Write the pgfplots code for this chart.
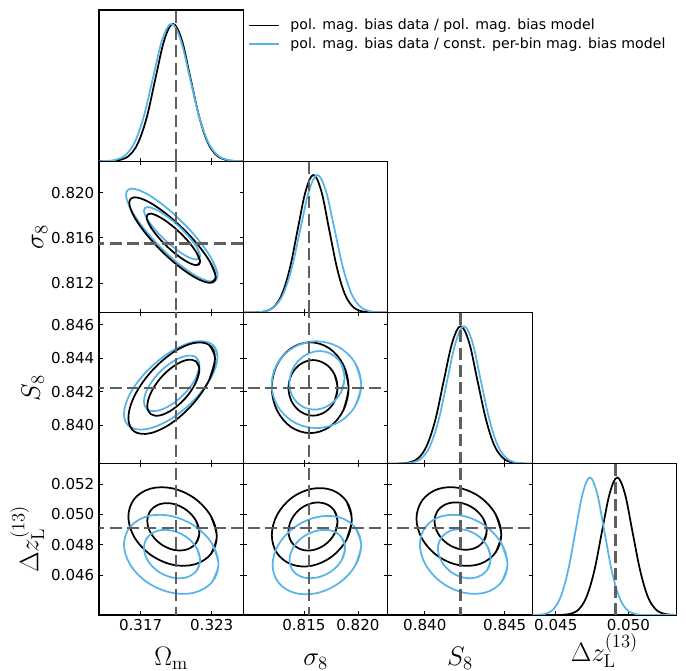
\RequirePackage{fix-cm}
\documentclass[border=0pt]{standalone}
\usepackage[no-math]{fontspec}
\setmainfont{DejaVu Sans}
\usepackage{pgfplots}
\pgfplotsset{compat=1.18}
\definecolor{cblue}{RGB}{86,180,233}
\definecolor{cgray}{RGB}{95,95,95}
\pgfplotsset{
  panel/.style={scale only axis, width=108.32pt, height=113.44pt, anchor=south west,
    tick align=inside, major tick length=2.8pt, scaled ticks=false,
    every tick/.style={black, line width=0.6pt},
    axis line style={line width=0.8pt},
    tick label style={font=\fontsize{11.3}{13}\selectfont},
    label style={font=\fontsize{20}{24}\selectfont},
    xticklabels={}, yticklabels={},
    xlabel style={at={(axis description cs:0.5,-0.331)}, anchor=base},
  },
  blk/.style={black, line width=1.3pt, smooth, tension=0.6},
  blu/.style={cblue, line width=1.3pt, smooth, tension=0.6},
  truth/.style={cgray, line width=1.9pt, dash pattern=on 9pt off 4pt, forget plot},
}
\begin{document}
\begin{tikzpicture}
\path[use as bounding box] (0,0) rectangle (514.5pt,503.25pt);

% ---------- (1,1) Omega_m 1D
\begin{axis}[panel, at={(74.25pt,382.31pt)},
  xmin=0.31348, xmax=0.32568, ymin=0, ymax=1.1,
  xtick={0.317,0.323}, ytick=\empty, xtick pos=left,
  legend style={at={(1.03,0.95)}, anchor=north west, draw=none, fill=none,
    font=\fontsize{10.6}{13}\selectfont, row sep=2.2pt, inner sep=0pt, nodes={inner sep=1pt},
    /tikz/every odd column/.append style={column sep=7pt}},
  legend cell align=left,
  legend image code/.code={\draw[#1] (0pt,0pt) -- (22.5pt,0pt);}]
\addplot[blk] coordinates {(0.3130,0) (0.31385,0.0003) (0.31459,0.0022) (0.31532,0.0111) (0.31606,0.0439) (0.31679,0.1353) (0.31753,0.3247) (0.31826,0.6065) (0.31900,0.8825) (0.31973,1) (0.32047,0.8825) (0.32120,0.6065) (0.32194,0.3247) (0.32267,0.1353) (0.32341,0.0439) (0.32414,0.0111) (0.32488,0.0022) (0.32561,0.0003) (0.3262,0)};
\addlegendentry{pol. mag. bias data / pol. mag. bias model}
\addplot[blu] coordinates {(0.3130,0) (0.31336,0.0003) (0.31414,0.0022) (0.31492,0.0111) (0.31570,0.0439) (0.31648,0.1353) (0.31726,0.3247) (0.31804,0.6065) (0.31882,0.8825) (0.31960,1) (0.32038,0.8825) (0.32116,0.6065) (0.32194,0.3247) (0.32272,0.1353) (0.32350,0.0439) (0.32428,0.0111) (0.32506,0.0022) (0.32584,0.0003) (0.3262,0)};
\addlegendentry{pol. mag. bias data / const. per-bin mag. bias model}
\addplot[truth] coordinates {(0.32,0) (0.32,1.1)};
\end{axis}

% ---------- (2,1) Omega_m vs sigma_8
\begin{axis}[panel, at={(74.25pt,268.88pt)},
  xmin=0.31348, xmax=0.32568, ymin=0.8094, ymax=0.82277,
  xtick={0.317,0.323}, ytick={0.812,0.816,0.820}, yticklabels={0.812,0.816,0.820},
  ylabel={$\sigma_8$}, ylabel style={at={(axis description cs:-0.385,0.5)}, anchor=base}]
\addplot[blu] coordinates {(0.32298,0.81213) (0.32350,0.81267) (0.32298,0.81416) (0.32157,0.81621) (0.31963,0.81826) (0.31770,0.81978) (0.31628,0.82035) (0.31576,0.81981) (0.31628,0.81832) (0.31770,0.81627) (0.31963,0.81422) (0.32157,0.81270) (0.32298,0.81213) (0.32350,0.81267) (0.32298,0.81416)};
\addplot[blk] coordinates {(0.32285,0.81202) (0.32334,0.81251) (0.32285,0.81388) (0.32152,0.81577) (0.31969,0.81766) (0.31787,0.81906) (0.31653,0.81958) (0.31604,0.81909) (0.31653,0.81772) (0.31787,0.81583) (0.31969,0.81394) (0.32152,0.81254) (0.32285,0.81202) (0.32334,0.81251) (0.32285,0.81388)};
\addplot[blu] coordinates {(0.32170,0.81408) (0.32202,0.81438) (0.32170,0.81522) (0.32083,0.81638) (0.31965,0.81755) (0.31847,0.81840) (0.31760,0.81872) (0.31728,0.81842) (0.31760,0.81758) (0.31847,0.81642) (0.31965,0.81526) (0.32083,0.81440) (0.32170,0.81408) (0.32202,0.81438) (0.32170,0.81522)};
\addplot[blk] coordinates {(0.32171,0.81358) (0.32202,0.81388) (0.32171,0.81471) (0.32089,0.81584) (0.31976,0.81698) (0.31863,0.81782) (0.31781,0.81814) (0.31750,0.81784) (0.31781,0.81702) (0.31863,0.81588) (0.31976,0.81474) (0.32089,0.81390) (0.32171,0.81358) (0.32202,0.81388) (0.32171,0.81471)};
\addplot[truth] coordinates {(0.32,0.805) (0.32,0.826)};
\addplot[truth] coordinates {(0.310,0.81548) (0.330,0.81548)};
\end{axis}

% ---------- (3,1) Omega_m vs S_8
\begin{axis}[panel, at={(74.25pt,155.44pt)},
  xmin=0.31348, xmax=0.32568, ymin=0.83769, ymax=0.84672,
  xtick={0.317,0.323}, ytick={0.840,0.842,0.844,0.846}, yticklabels={0.840,0.842,0.844,0.846},
  ylabel={$S_8$}, ylabel style={at={(axis description cs:-0.41,0.5)}, anchor=base}]
\addplot[blu] coordinates {(0.32296,0.84285) (0.32349,0.84409) (0.32296,0.84486) (0.32151,0.84497) (0.31954,0.84438) (0.31757,0.84325) (0.31612,0.84189) (0.31559,0.84065) (0.31612,0.83988) (0.31757,0.83977) (0.31954,0.84036) (0.32151,0.84149) (0.32296,0.84285) (0.32349,0.84409) (0.32296,0.84486)};
\addplot[blk] coordinates {(0.32279,0.84270) (0.32328,0.84398) (0.32279,0.84478) (0.32145,0.84489) (0.31962,0.84428) (0.31779,0.84311) (0.31645,0.84170) (0.31596,0.84042) (0.31645,0.83962) (0.31779,0.83951) (0.31962,0.84012) (0.32145,0.84129) (0.32279,0.84270) (0.32328,0.84398) (0.32279,0.84478)};
\addplot[blu] coordinates {(0.32165,0.84279) (0.32196,0.84357) (0.32165,0.84406) (0.32079,0.84412) (0.31962,0.84375) (0.31845,0.84304) (0.31759,0.84219) (0.31728,0.84141) (0.31759,0.84092) (0.31845,0.84086) (0.31962,0.84123) (0.32079,0.84194) (0.32165,0.84279) (0.32196,0.84357) (0.32165,0.84406)};
\addplot[blk] coordinates {(0.32166,0.84254) (0.32196,0.84332) (0.32166,0.84381) (0.32086,0.84388) (0.31976,0.84350) (0.31866,0.84279) (0.31786,0.84192) (0.31756,0.84114) (0.31786,0.84065) (0.31866,0.84058) (0.31976,0.84096) (0.32086,0.84167) (0.32166,0.84254) (0.32196,0.84332) (0.32166,0.84381)};
\addplot[truth] coordinates {(0.32,0.835) (0.32,0.849)};
\addplot[truth] coordinates {(0.310,0.84222) (0.330,0.84222)};
\end{axis}

% ---------- (4,1) Omega_m vs Delta z
\begin{axis}[panel, at={(74.25pt,42pt)},
  xmin=0.31348, xmax=0.32568, ymin=0.04338, ymax=0.05333,
  xtick={0.317,0.323}, xticklabels={0.317,0.323},
  ytick={0.046,0.048,0.050,0.052}, yticklabels={0.046,0.048,0.050,0.052},
  xlabel={$\Omega_{\mathrm{m}}$},
  ylabel={$\Delta z_{\mathrm{L}}^{(13)}$}, ylabel style={at={(axis description cs:-0.42,0.5)}, anchor=base}]
\addplot[blk] coordinates {(0.32293,0.04739) (0.32343,0.04855) (0.32293,0.04989) (0.32156,0.05105) (0.31969,0.05171) (0.31782,0.05169) (0.31646,0.05101) (0.31596,0.04985) (0.31646,0.04851) (0.31782,0.04735) (0.31969,0.04669) (0.32156,0.04671) (0.32293,0.04739) (0.32343,0.04855) (0.32293,0.04989)};
\addplot[blk] coordinates {(0.32166,0.04809) (0.32196,0.04879) (0.32166,0.04960) (0.32086,0.05029) (0.31976,0.05069) (0.31866,0.05068) (0.31786,0.05027) (0.31756,0.04957) (0.31786,0.04876) (0.31866,0.04807) (0.31976,0.04767) (0.32086,0.04768) (0.32166,0.04809) (0.32196,0.04879) (0.32166,0.04960)};
\addplot[blu] coordinates {(0.32303,0.04555) (0.32357,0.04672) (0.32303,0.04807) (0.32157,0.04923) (0.31958,0.04989) (0.31759,0.04988) (0.31613,0.04919) (0.31559,0.04802) (0.31613,0.04667) (0.31759,0.04551) (0.31958,0.04485) (0.32157,0.04486) (0.32303,0.04555) (0.32357,0.04672) (0.32303,0.04807)};
\addplot[blu] coordinates {(0.32170,0.04627) (0.32202,0.04699) (0.32170,0.04782) (0.32083,0.04853) (0.31965,0.04893) (0.31847,0.04893) (0.31760,0.04851) (0.31728,0.04779) (0.31760,0.04696) (0.31847,0.04625) (0.31965,0.04585) (0.32083,0.04585) (0.32170,0.04627) (0.32202,0.04699) (0.32170,0.04782)};
\addplot[truth] coordinates {(0.32,0.042) (0.32,0.055)};
\addplot[truth] coordinates {(0.310,0.0491) (0.330,0.0491)};
\end{axis}

% ---------- (2,2) sigma_8 1D
\begin{axis}[panel, at={(182.57pt,268.88pt)},
  xmin=0.8094, xmax=0.82277, ymin=0, ymax=1.1,
  xtick={0.815,0.820}, ytick=\empty, xtick pos=left]
\addplot[blk] coordinates {(0.8090,0) (0.81008,0.0003) (0.81081,0.0022) (0.81153,0.0111) (0.81226,0.0439) (0.81298,0.1353) (0.81371,0.3247) (0.81443,0.6065) (0.81516,0.8825) (0.81588,1) (0.81661,0.8825) (0.81733,0.6065) (0.81806,0.3247) (0.81878,0.1353) (0.81951,0.0439) (0.82023,0.0111) (0.82096,0.0022) (0.82168,0.0003) (0.8232,0)};
\addplot[blu] coordinates {(0.8090,0) (0.80993,0.0003) (0.81072,0.0022) (0.81151,0.0111) (0.81230,0.0439) (0.81309,0.1353) (0.81388,0.3247) (0.81467,0.6065) (0.81546,0.8825) (0.81625,1) (0.81704,0.8825) (0.81783,0.6065) (0.81862,0.3247) (0.81941,0.1353) (0.82020,0.0439) (0.82099,0.0111) (0.82178,0.0022) (0.82257,0.0003) (0.8232,0)};
\addplot[truth] coordinates {(0.81548,0) (0.81548,1.1)};
\end{axis}

% ---------- (3,2) sigma_8 vs S_8
\begin{axis}[panel, at={(182.57pt,155.44pt)},
  xmin=0.8094, xmax=0.82277, ymin=0.83769, ymax=0.84672,
  xtick={0.815,0.820}, ytick={0.840,0.842,0.844,0.846}]
\addplot[blk] coordinates {(0.81865,0.84088) (0.81913,0.84223) (0.81865,0.84359) (0.81735,0.84458) (0.81558,0.84494) (0.81381,0.84458) (0.81251,0.84359) (0.81203,0.84223) (0.81251,0.84088) (0.81381,0.83988) (0.81558,0.83952) (0.81735,0.83988) (0.81865,0.84088) (0.81913,0.84223) (0.81865,0.84359)};
\addplot[blu] coordinates {(0.81974,0.84112) (0.82030,0.84241) (0.81974,0.84371) (0.81823,0.84465) (0.81616,0.84500) (0.81409,0.84465) (0.81258,0.84371) (0.81202,0.84241) (0.81258,0.84112) (0.81409,0.84017) (0.81616,0.83982) (0.81823,0.84017) (0.81974,0.84112) (0.82030,0.84241) (0.81974,0.84371)};
\addplot[blk] coordinates {(0.81781,0.84139) (0.81811,0.84222) (0.81781,0.84305) (0.81698,0.84365) (0.81584,0.84388) (0.81471,0.84365) (0.81388,0.84305) (0.81357,0.84222) (0.81388,0.84139) (0.81471,0.84079) (0.81584,0.84056) (0.81698,0.84079) (0.81781,0.84139) (0.81811,0.84222) (0.81781,0.84305)};
\addplot[blu] coordinates {(0.81842,0.84195) (0.81876,0.84285) (0.81842,0.84369) (0.81748,0.84426) (0.81621,0.84441) (0.81494,0.84409) (0.81400,0.84339) (0.81366,0.84250) (0.81400,0.84165) (0.81494,0.84108) (0.81621,0.84093) (0.81748,0.84125) (0.81842,0.84195) (0.81876,0.84285) (0.81842,0.84369)};
\addplot[truth] coordinates {(0.81548,0.835) (0.81548,0.849)};
\addplot[truth] coordinates {(0.805,0.84222) (0.826,0.84222)};
\end{axis}

% ---------- (4,2) sigma_8 vs Delta z
\begin{axis}[panel, at={(182.57pt,42pt)},
  xmin=0.8094, xmax=0.82277, ymin=0.04338, ymax=0.05333,
  xtick={0.815,0.820}, xticklabels={0.815,0.820}, ytick={0.046,0.048,0.050,0.052},
  xlabel={$\sigma_8$}]
\addplot[blk] coordinates {(0.81894,0.04833) (0.81943,0.04967) (0.81894,0.05086) (0.81758,0.05160) (0.81573,0.05168) (0.81388,0.05109) (0.81252,0.04997) (0.81203,0.04863) (0.81252,0.04744) (0.81388,0.04670) (0.81573,0.04662) (0.81758,0.04722) (0.81894,0.04833) (0.81943,0.04967) (0.81894,0.05086)};
\addplot[blk] coordinates {(0.81781,0.04870) (0.81811,0.04952) (0.81781,0.05025) (0.81698,0.05070) (0.81584,0.05075) (0.81471,0.05039) (0.81388,0.04970) (0.81357,0.04888) (0.81388,0.04815) (0.81471,0.04770) (0.81584,0.04765) (0.81698,0.04802) (0.81781,0.04870) (0.81811,0.04952) (0.81781,0.05025)};
\addplot[blu] coordinates {(0.81975,0.04663) (0.82030,0.04797) (0.81975,0.04913) (0.81825,0.04981) (0.81620,0.04982) (0.81415,0.04916) (0.81265,0.04801) (0.81210,0.04667) (0.81265,0.04551) (0.81415,0.04483) (0.81620,0.04482) (0.81825,0.04548) (0.81975,0.04663) (0.82030,0.04797) (0.81975,0.04913)};
\addplot[blu] coordinates {(0.81847,0.04696) (0.81881,0.04779) (0.81847,0.04851) (0.81753,0.04893) (0.81624,0.04893) (0.81495,0.04853) (0.81401,0.04782) (0.81367,0.04699) (0.81401,0.04627) (0.81495,0.04585) (0.81624,0.04585) (0.81753,0.04625) (0.81847,0.04696) (0.81881,0.04779) (0.81847,0.04851)};
\addplot[truth] coordinates {(0.81548,0.042) (0.81548,0.055)};
\addplot[truth] coordinates {(0.805,0.0491) (0.826,0.0491)};
\end{axis}

% ---------- (3,3) S_8 1D
\begin{axis}[panel, at={(290.89pt,155.44pt)},
  xmin=0.83769, xmax=0.84672, ymin=0, ymax=1.1,
  xtick={0.840,0.845}, ytick=\empty, xtick pos=left]
\addplot[blk] coordinates {(0.8375,0) (0.83804,0.0003) (0.83857,0.0022) (0.83909,0.0111) (0.83962,0.0439) (0.84014,0.1353) (0.84067,0.3247) (0.84119,0.6065) (0.84172,0.8825) (0.84224,1) (0.84277,0.8825) (0.84329,0.6065) (0.84382,0.3247) (0.84434,0.1353) (0.84487,0.0439) (0.84539,0.0111) (0.84592,0.0022) (0.84644,0.0003) (0.8470,0)};
\addplot[blu] coordinates {(0.8375,0) (0.83825,0.0003) (0.83878,0.0022) (0.83930,0.0111) (0.83983,0.0439) (0.84035,0.1353) (0.84088,0.3247) (0.84140,0.6065) (0.84193,0.8825) (0.84245,1) (0.84298,0.8825) (0.84350,0.6065) (0.84403,0.3247) (0.84455,0.1353) (0.84508,0.0439) (0.84560,0.0111) (0.84613,0.0022) (0.84665,0.0003) (0.8470,0)};
\addplot[truth] coordinates {(0.84222,0) (0.84222,1.1)};
\end{axis}

% ---------- (4,3) S_8 vs Delta z
\begin{axis}[panel, at={(290.89pt,42pt)},
  xmin=0.83769, xmax=0.84672, ymin=0.04338, ymax=0.05333,
  xtick={0.840,0.845}, xticklabels={0.840,0.845}, ytick={0.046,0.048,0.050,0.052},
  xlabel={$S_8$}]
\addplot[blk] coordinates {(0.84442,0.04748) (0.84478,0.04868) (0.84442,0.05002) (0.84345,0.05114) (0.84213,0.05174) (0.84081,0.05166) (0.83984,0.05092) (0.83948,0.04972) (0.83984,0.04838) (0.84081,0.04726) (0.84213,0.04666) (0.84345,0.04674) (0.84442,0.04748) (0.84478,0.04868) (0.84442,0.05002)};
\addplot[blk] coordinates {(0.84365,0.04819) (0.84387,0.04892) (0.84365,0.04973) (0.84305,0.05040) (0.84224,0.05076) (0.84143,0.05071) (0.84083,0.05027) (0.84061,0.04954) (0.84083,0.04874) (0.84143,0.04806) (0.84224,0.04770) (0.84305,0.04775) (0.84365,0.04819) (0.84387,0.04892) (0.84365,0.04973)};
\addplot[blu] coordinates {(0.84480,0.04555) (0.84517,0.04672) (0.84480,0.04807) (0.84380,0.04923) (0.84243,0.04989) (0.84106,0.04988) (0.84006,0.04919) (0.83969,0.04802) (0.84006,0.04667) (0.84106,0.04551) (0.84243,0.04485) (0.84380,0.04486) (0.84480,0.04555) (0.84517,0.04672) (0.84480,0.04807)};
\addplot[blu] coordinates {(0.84390,0.04634) (0.84412,0.04709) (0.84390,0.04792) (0.84329,0.04862) (0.84247,0.04899) (0.84165,0.04894) (0.84105,0.04848) (0.84082,0.04773) (0.84105,0.04690) (0.84165,0.04620) (0.84247,0.04583) (0.84329,0.04588) (0.84390,0.04634) (0.84412,0.04709) (0.84390,0.04792)};
\addplot[truth] coordinates {(0.84222,0.042) (0.84222,0.055)};
\addplot[truth] coordinates {(0.835,0.0491) (0.849,0.0491)};
\end{axis}

% ---------- (4,4) Delta z 1D
\begin{axis}[panel, at={(399.21pt,42pt)},
  xmin=0.04338, xmax=0.05333, ymin=0, ymax=1.1,
  xtick={0.045,0.050}, xticklabels={0.045,0.050}, ytick=\empty, xtick pos=left,
  xlabel={$\Delta z_{\mathrm{L}}^{(13)}$},
  xlabel style={at={(axis description cs:0.5,-0.308)}, anchor=base}]
\addplot[blk] coordinates {(0.0432,0) (0.04503,0.0003) (0.04556,0.0022) (0.04608,0.0111) (0.04661,0.0439) (0.04713,0.1353) (0.04766,0.3247) (0.04818,0.6065) (0.04871,0.8825) (0.04923,1) (0.04976,0.8825) (0.05028,0.6065) (0.05081,0.3247) (0.05133,0.1353) (0.05186,0.0439) (0.05238,0.0111) (0.05291,0.0022) (0.05343,0.0003)};
\addplot[blu] coordinates {(0.0432,0) (0.04335,0.0003) (0.04385,0.0022) (0.04435,0.0111) (0.04485,0.0439) (0.04535,0.1353) (0.04585,0.3247) (0.04635,0.6065) (0.04685,0.8825) (0.04735,1) (0.04785,0.8825) (0.04835,0.6065) (0.04885,0.3247) (0.04935,0.1353) (0.04985,0.0439) (0.05035,0.0111) (0.05085,0.0022) (0.05135,0.0003) (0.0536,0)};
\addplot[truth] coordinates {(0.0491,0) (0.0491,1.1)};
\end{axis}
\end{tikzpicture}
\end{document}
